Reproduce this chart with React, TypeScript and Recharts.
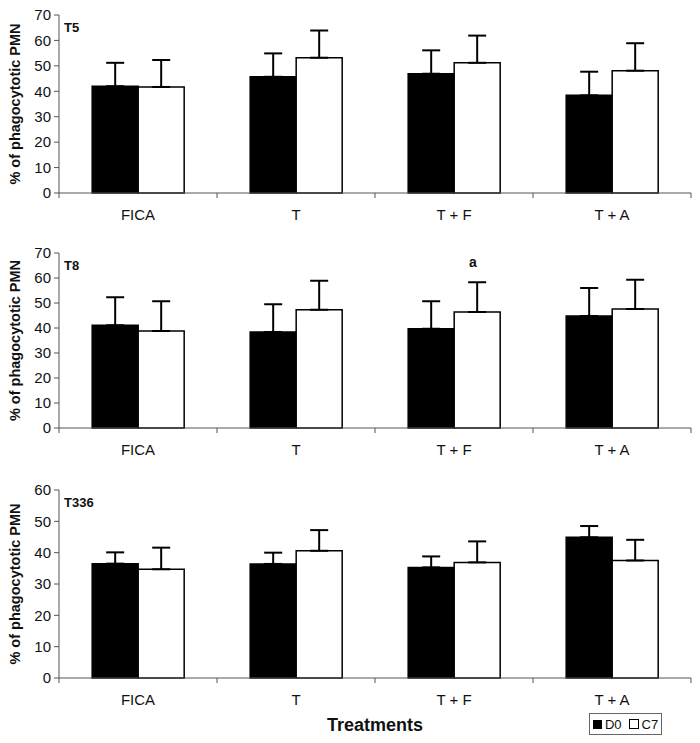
import React from "react";
import {
  BarChart,
  Bar,
  XAxis,
  YAxis,
  ErrorBar,
  Label,
  ReferenceDot,
} from "recharts";

// treatments on the x axis
const categories = ["FICA", "T", "T + F", "T + A"];

// T5 panel: means and SD (upper error only)
const t5D0 = [42.0, 45.7, 46.9, 38.4];
const t5D0Sd = [9.2, 9.2, 9.2, 9.3];
const t5C7 = [41.7, 53.2, 51.2, 48.1];
const t5C7Sd = [10.6, 10.7, 10.7, 10.8];

// T8 panel
const t8D0 = [41.1, 38.4, 39.7, 44.8];
const t8D0Sd = [11.2, 11.1, 11.0, 11.2];
const t8C7 = [38.8, 47.3, 46.4, 47.6];
const t8C7Sd = [11.9, 11.6, 11.9, 11.7];

// T336 panel
const t336D0 = [36.5, 36.4, 35.3, 44.9];
const t336D0Sd = [3.6, 3.6, 3.5, 3.6];
const t336C7 = [34.7, 40.6, 36.9, 37.5];
const t336C7Sd = [6.9, 6.6, 6.7, 6.6];

const ticks70 = [0, 10, 20, 30, 40, 50, 60, 70];
const ticks60 = [0, 10, 20, 30, 40, 50, 60];

const FONT = "'Liberation Sans', Arial, sans-serif";
const CHART_W = 700;
const PLOT_LEFT = 59;
const PLOT_RIGHT = 691;
const BAND = (PLOT_RIGHT - PLOT_LEFT) / categories.length;

const buildRows = (d0: number[], d0Sd: number[], c7: number[], c7Sd: number[]) =>
  categories.map((name, i) => ({
    name,
    d0: d0[i],
    c7: c7[i],
    d0Err: [0, d0Sd[i]],
    c7Err: [0, c7Sd[i]],
  }));

const CategoryTick = (props: any) => {
  const { x, y, payload } = props;
  const idx = payload?.index ?? props.index ?? 0;
  return (
    <g>
      <line x1={x - BAND / 2} x2={x - BAND / 2} y1={y} y2={y + 5} stroke="#555" />
      {idx === categories.length - 1 && (
        <line x1={x + BAND / 2} x2={x + BAND / 2} y1={y} y2={y + 5} stroke="#555" />
      )}
      <text x={x} y={y + 27} textAnchor="middle" fontSize={15} fill="#111" fontFamily={FONT}>
        {payload.value}
      </text>
    </g>
  );
};

interface PanelProps {
  title: string;
  rows: any[];
  ticks: number[];
  top: number;
  height: number;
  marginTop: number;
  marginBottom: number;
  xAxisHeight: number;
  showTitle?: boolean;
  note?: { x: string; y: number; text: string };
}

const Panel = ({
  title,
  rows,
  ticks,
  top,
  height,
  marginTop,
  marginBottom,
  xAxisHeight,
  showTitle,
  note,
}: PanelProps) => (
  <div style={{ position: "absolute", left: 0, top, width: CHART_W, height }}>
    <BarChart
      width={CHART_W}
      height={height}
      data={rows}
      margin={{ top: marginTop, right: CHART_W - PLOT_RIGHT, left: 0, bottom: marginBottom }}
      barCategoryGap="21%"
      barGap={0}
    >
      <XAxis
        dataKey="name"
        height={xAxisHeight}
        stroke="#555"
        tickLine={false}
        tickSize={0}
        tickMargin={0}
        tick={<CategoryTick />}
        interval={0}
      >
        {showTitle && (
          <Label
            value="Treatments"
            position="insideBottom"
            offset={2}
            style={{ fontSize: 18, fontWeight: "bold", fill: "#111", fontFamily: FONT }}
          />
        )}
      </XAxis>
      <YAxis
        width={PLOT_LEFT}
        domain={[0, ticks[ticks.length - 1]]}
        ticks={ticks}
        interval={0}
        stroke="#555"
        tickSize={5}
        tickMargin={3}
        tick={{ fontSize: 15, fill: "#111", fontFamily: FONT }}
      >
        <Label
          content={({ viewBox }: any) => {
            const cy = viewBox.y + viewBox.height / 2;
            return (
              <text
                x={15}
                y={cy}
                transform={`rotate(-90, 15, ${cy})`}
                textAnchor="middle"
                dominantBaseline="central"
                fontSize={14.5}
                fontWeight="bold"
                fill="#111"
                fontFamily={FONT}
              >
                % of phagocytotic PMN
              </text>
            );
          }}
        />
        <Label
          content={({ viewBox }: any) => (
            <text
              x={viewBox.x + viewBox.width + 5}
              y={viewBox.y + 12}
              dominantBaseline="central"
              fontSize={13}
              fontWeight="bold"
              fill="#111"
              fontFamily={FONT}
            >
              {title}
            </text>
          )}
        />
      </YAxis>
      <Bar dataKey="d0" fill="#000" stroke="#000" strokeWidth={1.5} isAnimationActive={false}>
        <ErrorBar dataKey="d0Err" direction="y" width={9} stroke="#000" strokeWidth={2} />
      </Bar>
      <Bar dataKey="c7" fill="#fff" stroke="#000" strokeWidth={1.5} isAnimationActive={false}>
        <ErrorBar dataKey="c7Err" direction="y" width={9} stroke="#000" strokeWidth={2} />
      </Bar>
      {note && (
        <ReferenceDot
          x={note.x}
          y={note.y}
          r={0}
          stroke="none"
          fill="none"
          label={{
            value: note.text,
            position: "center",
            dx: 19,
            style: { fontSize: 14, fontWeight: "bold", fill: "#111", fontFamily: FONT },
          }}
        />
      )}
    </BarChart>
  </div>
);

const LegendBox = () => (
  <div
    style={{
      position: "absolute",
      left: 589,
      top: 713,
      width: 71,
      height: 20,
      border: "1px solid #666",
      display: "flex",
      alignItems: "center",
      justifyContent: "center",
      fontFamily: FONT,
      fontSize: 13,
      color: "#111",
      gap: 3,
    }}
  >
    <span style={{ width: 9, height: 9, background: "#000", display: "inline-block" }} />
    <span>D0</span>
    <span
      style={{
        width: 8,
        height: 8,
        border: "1px solid #000",
        background: "#fff",
        display: "inline-block",
        marginLeft: 4,
      }}
    />
    <span>C7</span>
  </div>
);

export default function App() {
  return (
    <div
      style={{
        position: "absolute",
        left: 0,
        top: 0,
        width: 700,
        height: 743,
        background: "#fff",
        fontFamily: FONT,
      }}
    >
      <Panel
        title="T5"
        rows={buildRows(t5D0, t5D0Sd, t5C7, t5C7Sd)}
        ticks={ticks70}
        top={0}
        height={230}
        marginTop={15}
        marginBottom={7}
        xAxisHeight={30}
      />
      <Panel
        title="T8"
        rows={buildRows(t8D0, t8D0Sd, t8C7, t8C7Sd)}
        ticks={ticks70}
        top={230}
        height={230}
        marginTop={23}
        marginBottom={2}
        xAxisHeight={30}
        note={{ x: "T + F", y: 66.5, text: "a" }}
      />
      <Panel
        title="T336"
        rows={buildRows(t336D0, t336D0Sd, t336C7, t336C7Sd)}
        ticks={ticks60}
        top={460}
        height={283}
        marginTop={30}
        marginBottom={10}
        xAxisHeight={55}
        showTitle
      />
      <LegendBox />
    </div>
  );
}
